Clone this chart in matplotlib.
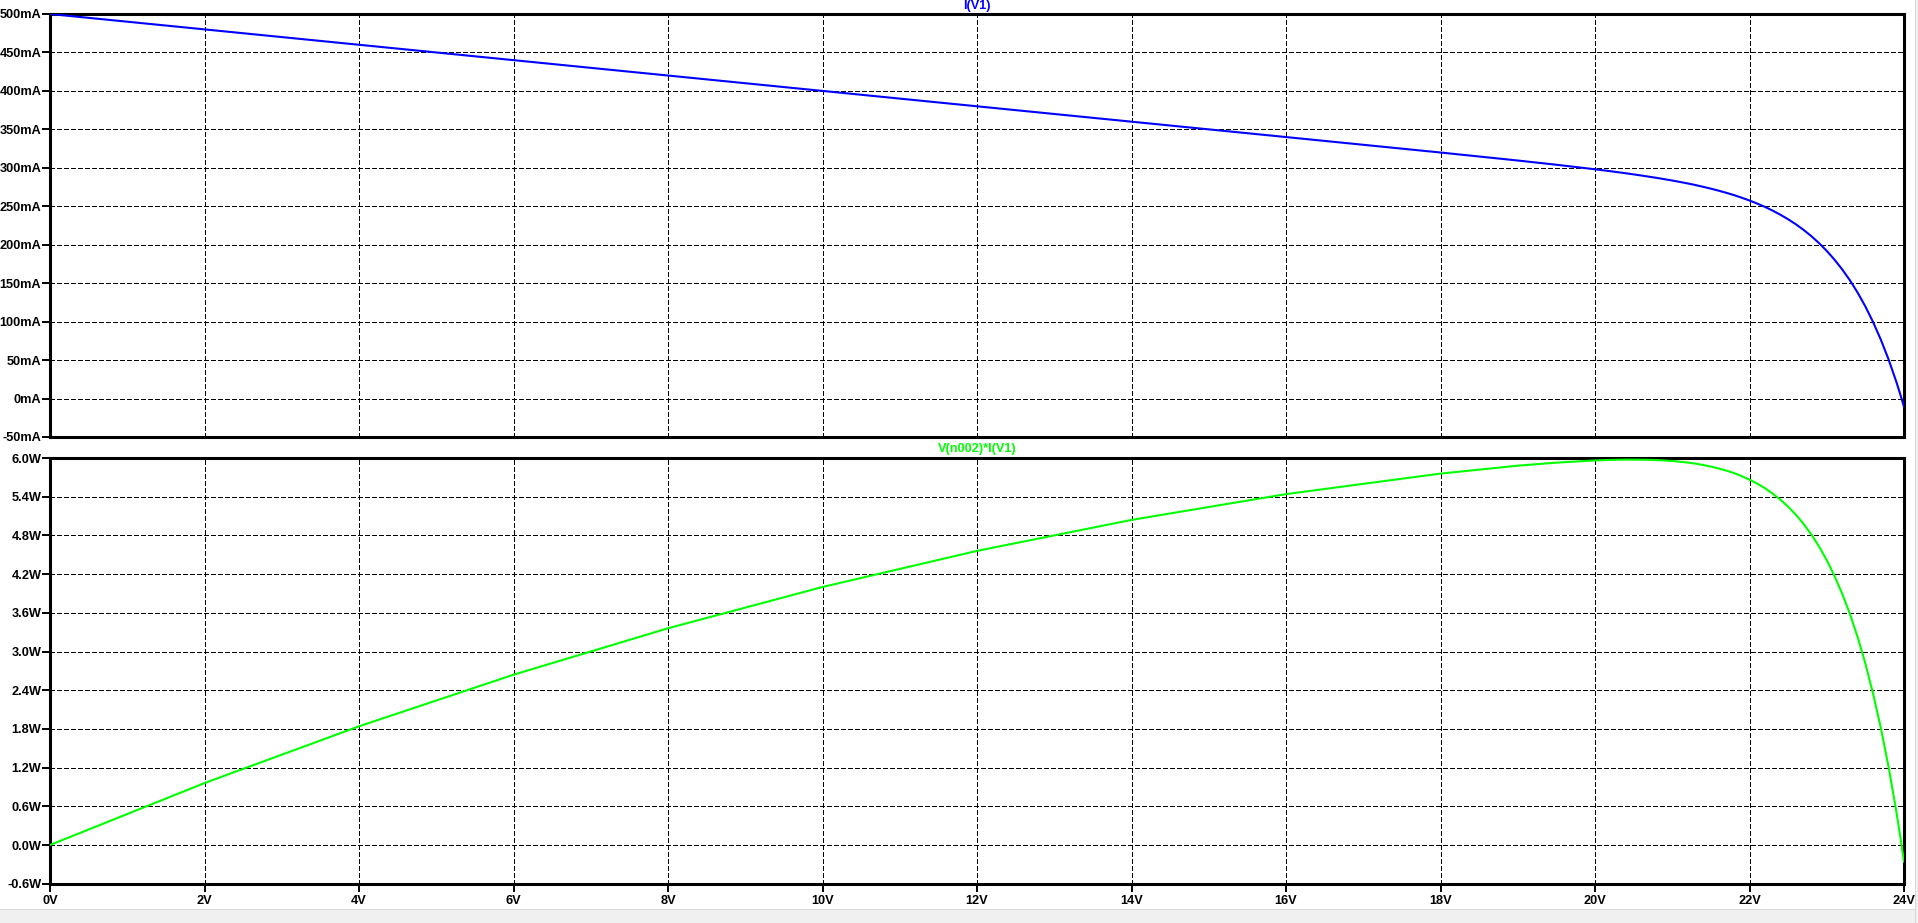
import matplotlib
matplotlib.use("Agg")
import matplotlib.pyplot as plt
from matplotlib.patches import Rectangle

# sweep voltage (V) and readings taken off the LTspice plot
voltage = [0, 2, 4, 6, 8, 10, 12, 14, 16, 18, 19, 19.5, 20, 20.2, 20.4,
           20.6, 20.8, 21.0, 21.1, 21.2, 21.3, 21.4, 21.5, 21.6, 21.7, 21.8,
           21.9, 22.0, 22.1, 22.2, 22.3, 22.4, 22.5, 22.6, 22.7, 22.8, 22.9,
           23.0, 23.1, 23.2, 23.3, 23.4, 23.5, 23.6, 23.7, 23.8, 23.9, 23.95,
           24.0]
current_ma = [500, 480, 460, 440, 420, 400, 380, 360, 340, 319.9, 309.5,
              304.0, 298.1, 295.6, 292.9, 290.0, 286.9, 283.5, 281.6, 279.7,
              277.6, 275.3, 272.9, 270.3, 267.5, 264.5, 261.1, 257.5, 253.5,
              249.2, 244.3, 239.0, 233.1, 226.6, 219.3, 211.2, 202.1, 192.0,
              180.6, 167.9, 153.7, 137.7, 119.7, 99.4, 76.6, 51.0, 22.0, 6.1,
              -10.7]
power_w = [0.0, 0.96, 1.84, 2.64, 3.36, 4.0, 4.56, 5.04, 5.44, 5.758, 5.881,
           5.928, 5.962, 5.971, 5.975, 5.974, 5.968, 5.954, 5.942, 5.930,
           5.913, 5.891, 5.867, 5.838, 5.805, 5.766, 5.718, 5.665, 5.602,
           5.532, 5.448, 5.354, 5.245, 5.121, 4.978, 4.815, 4.628, 4.416,
           4.172, 3.895, 3.582, 3.222, 2.813, 2.346, 1.815, 1.214, 0.526,
           0.146, -0.257]

x_ticks = list(range(0, 25, 2))
x_labels = [f"{v}V" for v in x_ticks]
i_ticks = list(range(-50, 501, 50))
i_labels = [f"{v}mA" for v in i_ticks]
p_ticks = [round(-0.6 + 0.6 * k, 1) for k in range(12)]
p_labels = [f"{v:.1f}W" for v in p_ticks]

plt.rcParams["font.family"] = ["Liberation Sans", "DejaVu Sans"]
plt.rcParams["font.weight"] = "bold"

W, H = 1918, 923
fig = plt.figure(figsize=(W / 100, H / 100), dpi=100)
fig.patch.set_facecolor("white")

left, right = 50 / W, 1904 / W
ax1 = fig.add_axes([left, 1 - 437 / H, right - left, 423 / H])
ax2 = fig.add_axes([left, 1 - 883.7 / H, right - left, 425.7 / H])

FS = 9.2


def style(ax, yt, yl, show_x):
    ax.set_xlim(0, 24)
    ax.set_xticks(x_ticks)
    ax.set_yticks(yt)
    ax.set_yticklabels(yl)
    if show_x:
        ax.set_xticklabels(x_labels)
        ax.tick_params(axis="x", length=5.8, width=1.4, pad=2, labelsize=FS)
    else:
        ax.tick_params(axis="x", length=0, labelbottom=False)
    ax.tick_params(axis="y", length=5.8, width=1.4, pad=0.5, labelsize=FS)
    for lab in ax.get_xticklabels() + ax.get_yticklabels():
        lab.set_fontweight("bold")
    for s in ax.spines.values():
        s.set_linewidth(2.2)
        s.set_color("black")
    ax.grid(True, color="black", linewidth=0.75, linestyle=(0, (4, 2.6)),
            antialiased=False)
    ax.set_axisbelow(True)


ax1.plot(voltage, current_ma, color="#0000ff", linewidth=1.5,
         solid_joinstyle="round", zorder=3)
ax1.set_ylim(-50, 500)
style(ax1, i_ticks, i_labels, False)

ax2.plot(voltage, power_w, color="#00ff00", linewidth=1.5,
         solid_joinstyle="round", zorder=3)
ax2.set_ylim(-0.6, 6.0)
style(ax2, p_ticks, p_labels, True)

cx = (50 + 1904) / 2 / W
fig.text(cx, 1 - 5.5 / H, "I(V1)", color="#0000ff", fontsize=FS,
         fontweight="bold", ha="center", va="center")
fig.text(cx, 1 - 449 / H, "V(n002)*I(V1)", color="#00ff00", fontsize=FS,
         fontweight="bold", ha="center", va="center")

# window frame: status bar and right edge
fig.patches.append(Rectangle((0, 0), 1, 13.5 / H, transform=fig.transFigure,
                             facecolor="#f0f0f0", edgecolor="none"))
fig.patches.append(Rectangle((0, 13 / H), 1, 1 / H, transform=fig.transFigure,
                             facecolor="#d9d9d9", edgecolor="none"))
fig.patches.append(Rectangle((1915 / W, 0), 3 / W, 1, transform=fig.transFigure,
                             facecolor="#f0f0f0", edgecolor="none"))
fig.patches.append(Rectangle((1914.5 / W, 0), 1 / W, 1, transform=fig.transFigure,
                             facecolor="#d9d9d9", edgecolor="none"))

fig.savefig("out.png", dpi=100)
